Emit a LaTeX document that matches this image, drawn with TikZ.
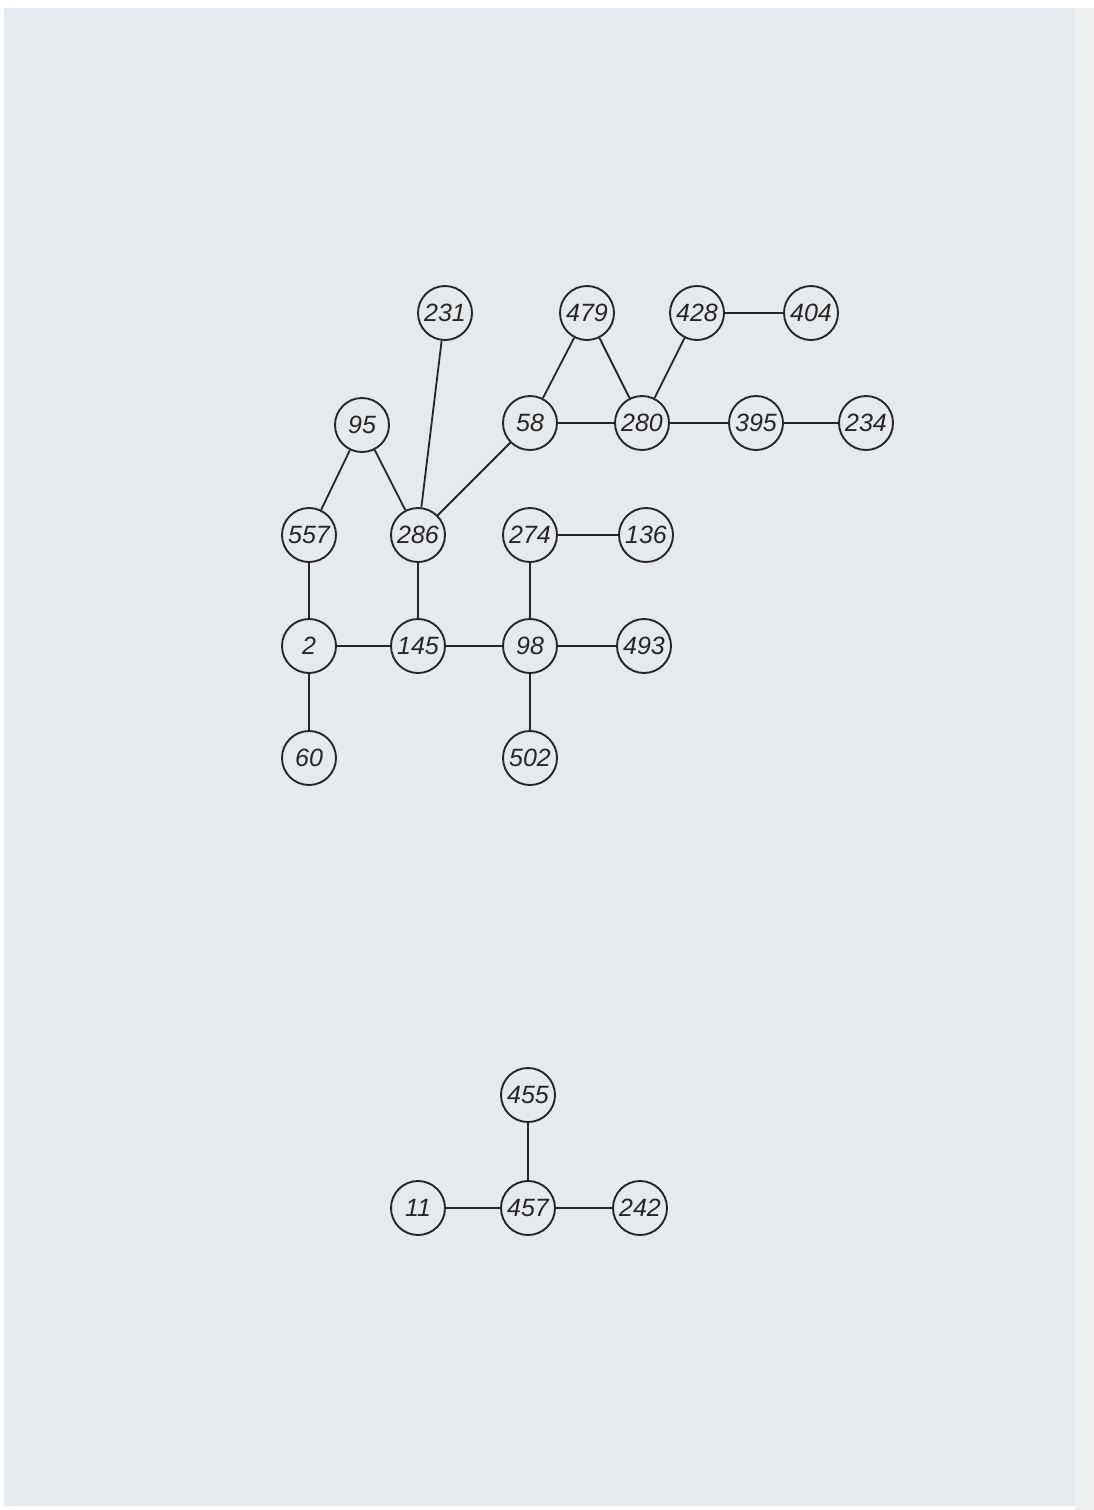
\documentclass[tikz,border=0pt]{standalone}
\usepackage{fontspec}
\setmainfont{Liberation Sans}
\begin{document}
\begin{tikzpicture}[x=1pt,y=-1pt,
  vert/.style={circle,draw=inkc,line width=1.9pt,minimum size=54pt,inner sep=0pt,fill=paperc,font=\fontsize{25}{25}\selectfont\itshape,text=inkc},
  edge/.style={draw=inkc,line width=1.8pt}]
\definecolor{paperc}{HTML}{E4EAEE}
\definecolor{stripc}{HTML}{EEF0EF}
\definecolor{inkc}{HTML}{2A2522}
\useasboundingbox (0,0) rectangle (1094,1510);
\fill[white] (0,0) rectangle (1094,1510);
\fill[paperc] (4,8) rectangle (1075,1506);
\fill[stripc] (1075,8) rectangle (1094,1510);
% nodes
\node[vert] (n231) at (445,313) {231};
\node[vert] (n479) at (587,313) {479};
\node[vert] (n428) at (697,313) {428};
\node[vert] (n404) at (811,313) {404};
\node[vert] (n95) at (362,425) {95};
\node[vert] (n58) at (530,423) {58};
\node[vert] (n280) at (642,423) {280};
\node[vert] (n395) at (756,423) {395};
\node[vert] (n234) at (866,423) {234};
\node[vert] (n557) at (309,535) {557};
\node[vert] (n286) at (418,535) {286};
\node[vert] (n274) at (530,535) {274};
\node[vert] (n136) at (646,535) {136};
\node[vert] (n2) at (309,646) {2};
\node[vert] (n145) at (418,646) {145};
\node[vert] (n98) at (530,646) {98};
\node[vert] (n493) at (644,646) {493};
\node[vert] (n60) at (309,758) {60};
\node[vert] (n502) at (530,758) {502};
\node[vert] (n455) at (528,1095) {455};
\node[vert] (n11) at (418,1208) {11};
\node[vert] (n457) at (528,1208) {457};
\node[vert] (n242) at (640,1208) {242};
% edges
\foreach \a/\b in {n428/n404,n479/n58,n479/n280,n428/n280,n58/n280,n280/n395,n395/n234,
  n95/n557,n95/n286,n231/n286,n58/n286,n274/n136,n557/n2,n286/n145,n274/n98,n2/n145,
  n145/n98,n98/n493,n2/n60,n98/n502,n455/n457,n11/n457,n457/n242}
  \draw[edge] (\a) -- (\b);
\end{tikzpicture}
\end{document}
